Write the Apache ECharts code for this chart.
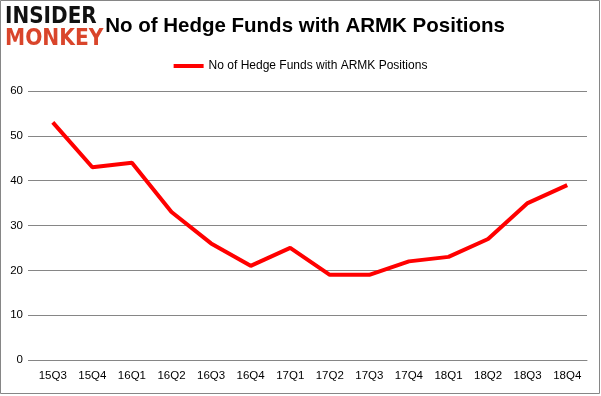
<!DOCTYPE html>
<html>
<head>
<meta charset="utf-8">
<script src="https://cdn.jsdelivr.net/npm/echarts@6/dist/echarts.min.js"></script>
<style>
  html, body { margin: 0; padding: 0; background: #fff; }
  #chart { width: 601px; height: 396px; }
</style>
</head>
<body>
<div id="chart"></div>
<script>
// datos
const quarters = ["15Q3", "15Q4", "16Q1", "16Q2", "16Q3", "16Q4", "17Q1",
  "17Q2", "17Q3", "17Q4", "18Q1", "18Q2", "18Q3", "18Q4"];
const fundCounts = [53, 43, 44, 33, 26, 21, 25, 19, 19, 22, 23, 27, 35, 39];
const yTicks = [0, 10, 20, 30, 40, 50, 60];
const seriesName = "No of Hedge Funds with ARMK Positions";

const chart = echarts.init(document.getElementById("chart"));

chart.setOption({
  animation: false,
  backgroundColor: "#fff",
  textStyle: { fontFamily: "Liberation Sans" },
  title: {
    text: seriesName,
    left: 300,
    textAlign: "center",
    top: 11,
    textStyle: { fontSize: 20.5, fontWeight: "bold", color: "#000" }
  },
  legend: {
    data: [seriesName],
    top: 55,
    left: "center",
    itemWidth: 30,
    itemHeight: 4,
    icon: "rect",
    textStyle: { fontSize: 12, color: "#000" }
  },
  grid: { left: 33, right: 14, top: 91, bottom: 36 },
  xAxis: {
    type: "category",
    data: quarters,
    boundaryGap: true,
    axisLine: { lineStyle: { color: "#868686" } },
    axisTick: { length: 5, lineStyle: { color: "#868686" } },
    axisLabel: { fontSize: 11.5, color: "#000", margin: 10 }
  },
  yAxis: {
    type: "value",
    min: yTicks[0],
    max: yTicks[yTicks.length - 1],
    interval: 10,
    axisLine: { show: false },
    axisTick: { show: true, length: 5, lineStyle: { color: "#868686" } },
    axisLabel: { fontSize: 11.5, color: "#000", margin: 10 },
    splitLine: { lineStyle: { color: "#868686" } }
  },
  series: [{
    name: seriesName,
    type: "line",
    data: fundCounts,
    symbol: "none",
    lineStyle: { color: "#ff0000", width: 4 },
    itemStyle: { color: "#ff0000" }
  }],
  graphic: [
    // marco exterior
    { type: "rect", shape: { x: 0.5, y: 0.5, width: 599, height: 393 },
      style: { fill: null, stroke: "#868686", lineWidth: 1 }, z: 1 },
    // logo
    { type: "rect", shape: { x: 4, y: 6, width: 100, height: 46 },
      style: { fill: "#fff" }, z: 10 },
    { type: "text", x: 5, y: 6, scaleX: 0.87, z: 11,
      style: { text: "INSIDER", fill: "#111", fontSize: 23, fontWeight: "bold",
        fontFamily: "DejaVu Sans" } },
    { type: "text", x: 5, y: 28, scaleX: 0.88, z: 11,
      style: { text: "MONKEY", fill: "#d9452b", fontSize: 23, fontWeight: "bold",
        fontFamily: "DejaVu Sans" } }
  ]
});
</script>
</body>
</html>
